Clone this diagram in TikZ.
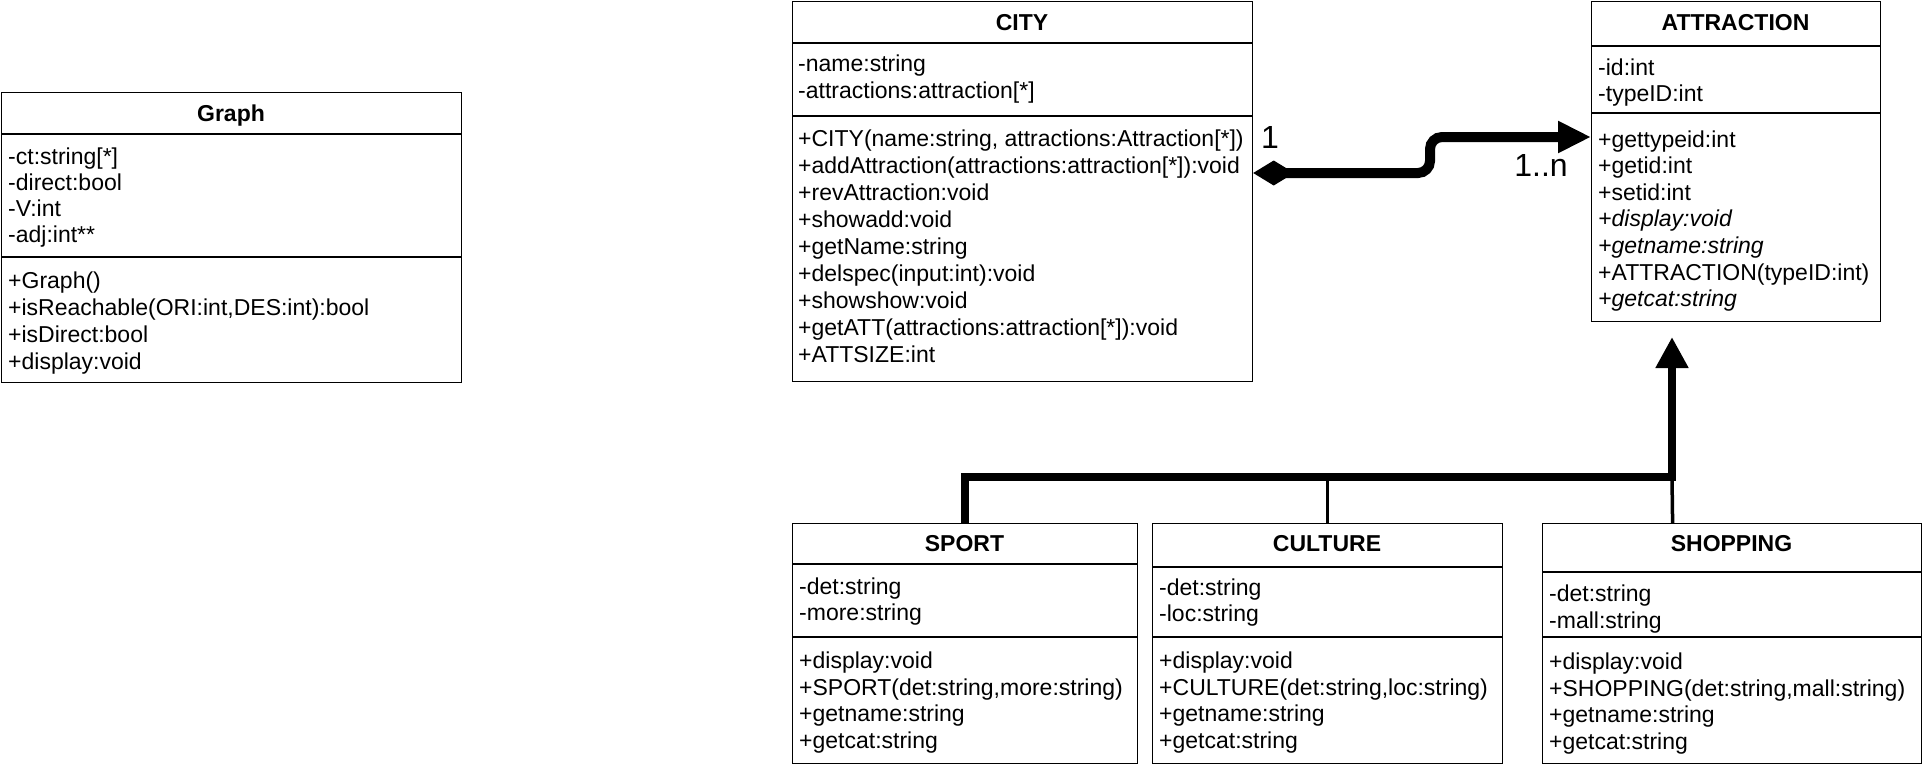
\documentclass[tikz,border=0pt]{standalone}
\usepackage{fontspec}
\setmainfont{Liberation Sans}
\usetikzlibrary{arrows.meta}
\begin{document}
\begin{tikzpicture}[x=1pt,y=-1pt,
  classbox/.style={draw=black, line width=1.2pt, fill=white, inner sep=0pt, anchor=north west},
  member/.style={font=\fontsize{23}{27}\selectfont, inner sep=0pt, anchor=west, text height=16.5pt, text depth=0pt},
  imember/.style={member, font=\fontsize{23}{27}\selectfont\itshape},
  ctitle/.style={font=\fontsize{23}{27}\selectfont\bfseries, inner sep=0pt, text height=16.5pt, text depth=0pt},
  divline/.style={line width=1.2pt},
  mult/.style={font=\fontsize{32}{36}\selectfont, inner sep=0pt, text height=23pt, text depth=0pt},
  assoc/.style={line width=10pt, rounded corners=12pt, {Diamond[length=41pt,width=25pt]}-{Triangle[length=33pt,width=30pt]}},
  inhthick/.style={line width=8pt, -{Triangle[length=31pt,width=31pt]}},
  inhthin/.style={line width=3.5pt}
]
\useasboundingbox (0,0) rectangle (1923,768);

% ---------- Graph ----------
\node[classbox, minimum width=460pt, minimum height=290pt] (graph) at (1,92) {};
\node[ctitle] (graphT) at (231,113) {Graph};
\draw[divline] (1,134) -- (461,134);
\draw[divline] (1,257) -- (461,257);
\node[member] (g1) at (8,156) {-ct:string[*]};
\node[member] (g2) at (8,182) {-direct:bool};
\node[member] (g3) at (8,208) {-V:int};
\node[member] (g4) at (8,234) {-adj:int**};
\node[member] (g5) at (8,280) {+Graph()};
\node[member] (g6) at (8,307) {+isReachable(ORI:int,DES:int):bool};
\node[member] (g7) at (8,334) {+isDirect:bool};
\node[member] (g8) at (8,361) {+display:void};

% ---------- CITY ----------
\node[classbox, minimum width=460pt, minimum height=380pt] (city) at (792,1) {};
\node[ctitle] (cityT) at (1022,22) {CITY};
\draw[divline] (792,43) -- (1252,43);
\draw[divline] (792,116) -- (1252,116);
\node[member] (c1) at (798,63) {-name:string};
\node[member] (c2) at (798,90) {-attractions:attraction[*]};
\node[member] (c3) at (798,138) {+CITY(name:string, attractions:Attraction[*])};
\node[member] (c4) at (798,165) {+addAttraction(attractions:attraction[*]):void};
\node[member] (c5) at (798,192) {+revAttraction:void};
\node[member] (c6) at (798,219) {+showadd:void};
\node[member] (c7) at (798,246) {+getName:string};
\node[member] (c8) at (798,273) {+delspec(input:int):void};
\node[member] (c9) at (798,300) {+showshow:void};
\node[member] (c10) at (798,327) {+getATT(attractions:attraction[*]):void};
\node[member] (c11) at (798,354) {+ATTSIZE:int};

% ---------- ATTRACTION ----------
\node[classbox, minimum width=289pt, minimum height=320pt] (attr) at (1591,1) {};
\node[ctitle] (attrT) at (1735.5,22) {ATTRACTION};
\draw[divline] (1591,46) -- (1880,46);
\draw[divline] (1591,113) -- (1880,113);
\node[member] (a1) at (1598,67) {-id:int};
\node[member] (a2) at (1598,93) {-typeID:int};
\node[member] (a3) at (1598,139) {+gettypeid:int};
\node[member] (a4) at (1598,165) {+getid:int};
\node[member] (a5) at (1598,192) {+setid:int};
\node[imember] (a6) at (1598,218) {+display:void};
\node[imember] (a7) at (1598,245) {+getname:string};
\node[member] (a8) at (1598,272) {+ATTRACTION(typeID:int)};
\node[imember] (a9) at (1598,298) {+getcat:string};

% ---------- SPORT ----------
\node[classbox, minimum width=345pt, minimum height=240pt] (sport) at (792,523) {};
\node[ctitle] (sportT) at (964.5,543) {SPORT};
\draw[divline] (792,564) -- (1137,564);
\draw[divline] (792,637) -- (1137,637);
\node[member] (s1) at (799,586) {-det:string};
\node[member] (s2) at (799,612) {-more:string};
\node[member] (s3) at (799,660) {+display:void};
\node[member] (s4) at (799,687) {+SPORT(det:string,more:string)};
\node[member] (s5) at (799,713) {+getname:string};
\node[member] (s6) at (799,740) {+getcat:string};

% ---------- CULTURE ----------
\node[classbox, minimum width=350pt, minimum height=240pt] (cult) at (1152,523) {};
\node[ctitle] (cultT) at (1327,543) {CULTURE};
\draw[divline] (1152,567) -- (1502,567);
\draw[divline] (1152,637) -- (1502,637);
\node[member] (u1) at (1159,587) {-det:string};
\node[member] (u2) at (1159,613) {-loc:string};
\node[member] (u3) at (1159,660) {+display:void};
\node[member] (u4) at (1159,687) {+CULTURE(det:string,loc:string)};
\node[member] (u5) at (1159,713) {+getname:string};
\node[member] (u6) at (1159,740) {+getcat:string};

% ---------- SHOPPING ----------
\node[classbox, minimum width=379pt, minimum height=240pt] (shop) at (1542,523) {};
\node[ctitle] (shopT) at (1731.5,543) {SHOPPING};
\draw[divline] (1542,572) -- (1921,572);
\draw[divline] (1542,637) -- (1921,637);
\node[member] (h1) at (1549,593) {-det:string};
\node[member] (h2) at (1549,620) {-mall:string};
\node[member] (h3) at (1549,661) {+display:void};
\node[member] (h4) at (1549,688) {+SHOPPING(det:string,mall:string)};
\node[member] (h5) at (1549,714) {+getname:string};
\node[member] (h6) at (1549,741) {+getcat:string};

% ---------- association CITY -> ATTRACTION ----------
\draw[assoc] ([yshift=-172pt]city.north east) -- (1430,173) -- (1430,137) -- ([yshift=-136pt]attr.north west);
\node[mult] (m1) at (1270,137) {1};
\node[mult] (m2) at (1541,165) {1..n};

% ---------- inheritance ----------
\coordinate (junc) at (1672,477);
\coordinate (inhTip) at (1672,337);
\draw[inhthin] (cult.north) -- (cult.north |- junc);
\draw[inhthin] ([xshift=-59.5pt]shop.north) -- (junc);
\draw[inhthick] (sport.north) -- (sport.north |- junc) -- (junc) -- (inhTip);
\end{tikzpicture}
\end{document}
